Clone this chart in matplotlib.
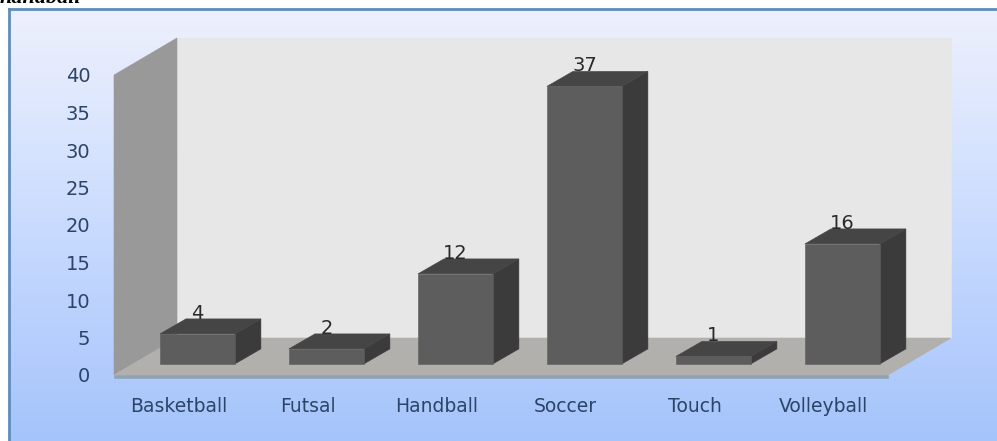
import numpy as np
import matplotlib
matplotlib.use('Agg')
import matplotlib.pyplot as plt
from matplotlib.colors import LinearSegmentedColormap
from matplotlib.patches import Polygon

sports = ['Basketball', 'Futsal', 'Handball', 'Soccer', 'Touch', 'Volleyball']
counts = [4, 2, 12, 37, 1, 16]
y_ticks = [0, 5, 10, 15, 20, 25, 30, 35, 40]

W, H = 997, 441
fig = plt.figure(figsize=(W / 100, H / 100), dpi=100, facecolor='white')
plt.rcParams['font.family'] = 'DejaVu Sans'

# background panel with the blue gradient
bg = fig.add_axes([9 / W, 0, 1 - 9 / W, 1 - 9 / H])
cmap = LinearSegmentedColormap.from_list('panel', ['#eef0fc', '#d6e3fe', '#bdd3fd', '#a5c4fb'])
bg.imshow(np.linspace(0, 1, 256).reshape(-1, 1), aspect='auto', cmap=cmap)
bg.set_xticks([])
bg.set_yticks([])
for s in ['right', 'bottom']:
    bg.spines[s].set_visible(False)
for s in ['left', 'top']:
    bg.spines[s].set_color('#5d8cbd')
    bg.spines[s].set_linewidth(2)

# front plane of the fake 3d box
ax = fig.add_axes([114 / W, (H - 375) / H, 774 / W, 300 / H])
ax.patch.set_visible(False)
ax.set_xlim(-0.5, 5.5)
ax.set_ylim(0, 40)
for s in ax.spines.values():
    s.set_visible(False)

depth_x = 63 / 129
depth_y = 37 / 7.5
left, right = ax.get_xlim()
top = ax.get_ylim()[1]


def poly(points, color, z):
    ax.add_patch(Polygon(points, closed=True, facecolor=color, edgecolor=color,
                         linewidth=0.4, zorder=z, clip_on=False))


# walls and floor
poly([(left + depth_x, depth_y), (right + depth_x, depth_y),
      (right + depth_x, top + depth_y), (left + depth_x, top + depth_y)], '#e7e7e7', 1)
poly([(left, 0), (left + depth_x, depth_y), (left + depth_x, top + depth_y), (left, top)], '#999999', 2)
poly([(left, 0), (left + depth_x, depth_y), (right + depth_x, depth_y), (right, 0)], '#b1b0ad', 2)
poly([(left, 0), (right, 0), (right, -0.4), (left, -0.4)], '#8fa3b3', 2)

# bars sit 30% into the depth of the floor
bar_w = 75 / 129
off_x = 0.3 * depth_x
off_y = 0.3 * depth_y
bar_dx = 26 / 129
bar_dy = 15 / 7.5

for i, (name, v) in enumerate(zip(sports, counts)):
    x0 = i - bar_w / 2 + off_x
    x1 = i + bar_w / 2 + off_x
    y0 = off_y
    y1 = off_y + v
    poly([(x1, y0), (x1 + bar_dx, y0 + bar_dy), (x1 + bar_dx, y1 + bar_dy), (x1, y1)], '#3b3b3b', 3)
    poly([(x0, y1), (x1, y1), (x1 + bar_dx, y1 + bar_dy), (x0 + bar_dx, y1 + bar_dy)], '#454545', 3)
    poly([(x0, y0), (x1, y0), (x1, y1), (x0, y1)], '#5d5d5d', 4)
    ax.annotate(str(v), (i + off_x, y1), xytext=(0, 15), textcoords='offset points',
                ha='center', va='center', fontsize=14, color='#2a2a2a', zorder=5,
                annotation_clip=False)

ax.set_xticks(range(len(sports)))
ax.set_xticklabels(sports)
ax.set_yticks(y_ticks)
ax.tick_params(axis='x', length=0, pad=16, labelsize=13.5, labelcolor='#2b4468')
ax.tick_params(axis='y', length=0, pad=17, labelsize=14, labelcolor='#2b4468')

# cut-off caption line at the very top of the picture
fig.text(0, 1 - 3 / H, 'handball', fontsize=16, family='Liberation Serif',
         style='italic', weight='bold', color='black', ha='left', va='baseline')

fig.savefig('out.png', dpi=100)
